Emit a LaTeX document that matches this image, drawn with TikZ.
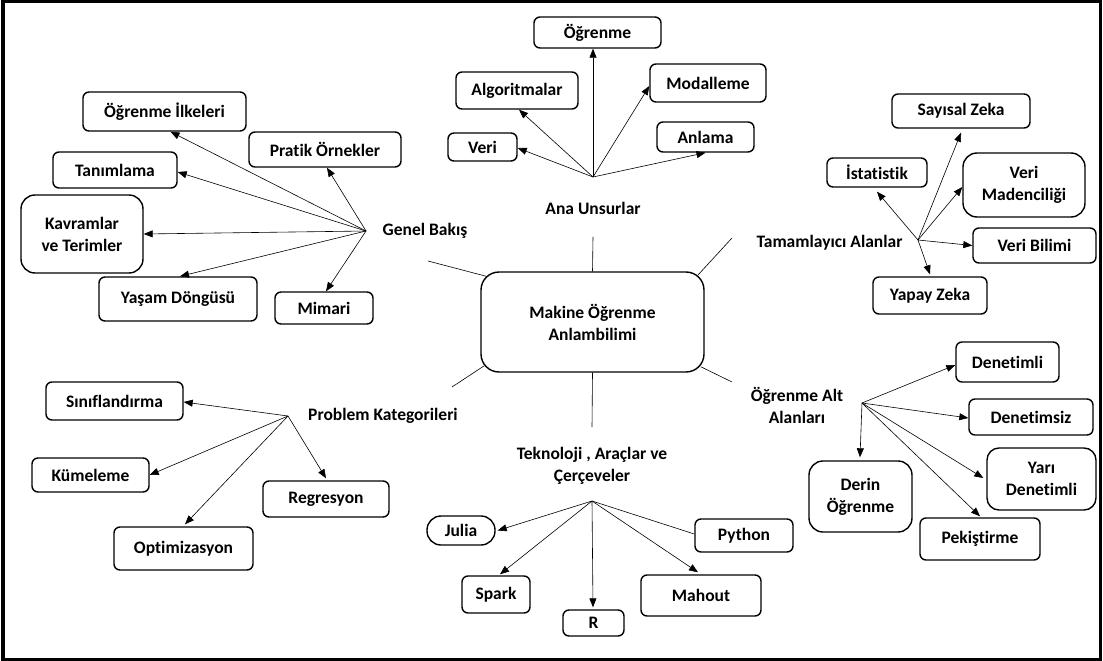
\documentclass[tikz,border=0pt]{standalone}
\usepackage{fontspec}
\setmainfont{Carlito}[RawFeature={-liga}]
\usetikzlibrary{arrows.meta,calc}

\begin{document}
\begin{tikzpicture}[
  x=1pt, y=-1pt,
  every node/.style={font=\fontsize{17.5}{22}\selectfont\bfseries, align=center, inner sep=0pt},
  box/.style={draw, line width=1.4pt, rounded corners=6pt},
  bigbox/.style={box, rounded corners=14pt},
  arr/.style={-{Triangle[length=9pt,width=7pt]}, line width=0.6pt},
  link/.style={line width=0.6pt}
]
\useasboundingbox (0,0) rectangle (1103,661);
\draw[line width=3.5pt] (3,1.5) rectangle (1100.5,659.5);

% central concept
\node[draw, line width=1.4pt, rounded corners=18pt, minimum width=223pt, minimum height=100pt]
  (mk) at (592.5,322) {Makine Öğrenme\\Anlambilimi};

% branch labels
\node (gb) at (425,231) {Genel Bakış};
\node (au) at (593,208) {Ana Unsurlar};
\node (ta) at (829.5,243) {Tamamlayıcı Alanlar};
\node (pk) at (383,416) {Problem Kategorileri};
\node (tk) at (592,466) {Teknoloji , Araçlar ve\\Çerçeveler};
\node (oa) at (797,405) {Öğrenme Alt\\Alanları};

% free ends of the spokes and hubs of the fans
\coordinate (gbEnd) at (428,261);
\coordinate (auEnd) at (593,237);
\coordinate (taEnd) at (732,238);
\coordinate (pkEnd) at (452,387);
\coordinate (tkEnd) at (592,427);
\coordinate (oaEnd) at (732,382);

\coordinate (gbHub) at (366,231);
\coordinate (auHub) at (593,177);
\coordinate (taHub) at (918,240);
\coordinate (pkHub) at (288,416);
\coordinate (tkHub) at (592,501);
\coordinate (oaHub) at (862,403);

\coordinate (mkGB) at ($(mk.north west)+(6,5)$);
\coordinate (mkTA) at ($(mk.north east)+(-7,4)$);
\coordinate (mkPK) at ($(mk.south west)+(4,-7)$);
\coordinate (mkOA) at ($(mk.south east)+(-4,-6)$);

\draw[link] (mkGB) -- (gbEnd);
\draw[link] (mk.north) -- (auEnd);
\draw[link] (mkTA) -- (taEnd);
\draw[link] (mkPK) -- (pkEnd);
\draw[link] (mk.south) -- (tkEnd);
\draw[link] (mkOA) -- (oaEnd);

% Genel Bakış
\node[box, minimum width=163pt, minimum height=39pt] (oi) at (164.5,111.5) {Öğrenme İlkeleri};
\node[box, minimum width=152pt, minimum height=35pt] (pr) at (325,149.5) {Pratik Örnekler};
\node[box, minimum width=124pt, minimum height=36pt] (tn) at (115,170) {Tanımlama};
\node[bigbox, minimum width=122pt, minimum height=78pt] (kv) at (82,234) {Kavramlar\\ve Terimler};
\node[box, minimum width=158pt, minimum height=44pt] (ys) at (178,299) {Yaşam Döngüsü};
\node[box, minimum width=98pt, minimum height=32pt] (mi) at (324,308) {Mimari};

\draw[arr] (gbHub) -- ([xshift=6pt]oi.south);
\draw[arr] (gbHub) -- ([xshift=2pt]pr.south);
\draw[arr] (gbHub) -- ([yshift=-2pt]tn.east);
\draw[arr] (gbHub) -- (kv.east);
\draw[arr] (gbHub) -- ([xshift=2pt]ys.north);
\draw[arr] (gbHub) -- ([xshift=2pt]mi.north);

% Ana Unsurlar
\node[box, minimum width=127pt, minimum height=31pt] (og) at (597.5,32.5) {Öğrenme};
\node[box, minimum width=122pt, minimum height=37pt] (al) at (517,90.5) {Algoritmalar};
\node[box, minimum width=116pt, minimum height=38pt] (mo) at (708,83) {Modalleme};
\node[box, minimum width=69pt, minimum height=28pt] (ve) at (482.5,147) {Veri};
\node[box, minimum width=97pt, minimum height=30pt] (an) at (705.5,137) {Anlama};

\draw[arr] (auHub) -- ([xshift=-4.5pt]og.south);
\draw[arr] (auHub) -- ([xshift=2pt]al.south);
\draw[arr] (auHub) -- ([yshift=-3pt]mo.west);
\draw[arr] (auHub) -- ([yshift=-1pt]ve.east);
\draw[arr] (auHub) -- (an.south);

% Tamamlayıcı Alanlar
\node[box, minimum width=138pt, minimum height=34pt] (sz) at (961,111) {Sayısal Zeka};
\node[box, minimum width=100pt, minimum height=29pt] (is) at (877,172.5) {İstatistik};
\node[bigbox, minimum width=122pt, minimum height=64pt] (vm) at (1024,185) {Veri\\Madenciliği};
\node[box, minimum width=123pt, minimum height=35pt] (vb) at (1034.5,245.5) {Veri Bilimi};
\node[box, minimum width=114pt, minimum height=37pt] (yz) at (930,295.5) {Yapay Zeka};

\draw[arr] (taHub) -- ([yshift=-4pt]sz.south);
\draw[arr] (taHub) -- ([yshift=-4pt]is.south);
\draw[arr] (taHub) -- ([yshift=-2pt]vm.west);
\draw[arr] (taHub) -- (vb.west);
\draw[arr] (taHub) -- ([yshift=2pt]yz.north);

% Problem Kategorileri
\node[box, minimum width=137pt, minimum height=38pt] (sn) at (114.5,401) {Sınıflandırma};
\node[box, minimum width=117pt, minimum height=34pt] (km) at (90.5,475) {Kümeleme};
\node[box, minimum width=139pt, minimum height=43pt] (op) at (183.5,548.5) {Optimizasyon};
\node[box, minimum width=126pt, minimum height=36pt] (rg) at (326,499) {Regresyon};

\draw[arr] (pkHub) -- ([yshift=-1pt]sn.east);
\draw[arr] (pkHub) -- (km.east);
\draw[arr] (pkHub) -- ([xshift=1.5pt,yshift=2pt]op.north);
\draw[arr] (pkHub) -- ([yshift=2pt]rg.north);

% Teknoloji, Araçlar ve Çerçeveler
\node[draw, line width=1.4pt, rounded corners=14pt, minimum width=68pt, minimum height=29pt] (ju) at (461,530.5) {Julia};
\node[box, minimum width=68pt, minimum height=37pt] (sp) at (496,594.5) {Spark};
\node[box, minimum width=61pt, minimum height=26pt] (rr) at (593.5,623) {R};
\node[box, minimum width=120pt, minimum height=41pt] (ma) at (701,595.5) {Mahout};
\node[box, minimum width=98pt, minimum height=33pt] (py) at (744,535.5) {Python};

\draw[arr] (tkHub) -- ([xshift=2pt]ju.east);
\draw[arr] (tkHub) -- ([xshift=4pt,yshift=1pt]sp.north);
\draw[arr] (tkHub) -- ([xshift=-0.5pt,yshift=2pt]rr.north);
\draw[arr] (tkHub) -- ([xshift=-3pt,yshift=2pt]ma.north);
\draw[link] (tkHub) -- ([yshift=1.5pt]py.west);

% Öğrenme Alt Alanları
\node[box, minimum width=103pt, minimum height=40pt] (dn) at (1007.5,362) {Denetimli};
\node[box, minimum width=124pt, minimum height=36pt] (dz) at (1031,417) {Denetimsiz};
\node[bigbox, rounded corners=12pt, minimum width=109pt, minimum height=62pt] (yd) at (1041.5,479) {Yarı\\Denetimli};
\node[box, minimum width=120pt, minimum height=42pt] (pe) at (980,539) {Pekiştirme};
\node[bigbox, minimum width=103pt, minimum height=71pt] (dr) at (860.5,496.5) {Derin\\Öğrenme};

\draw[arr] (oaHub) -- ([yshift=-3pt]dn.west);
\draw[arr] (oaHub) -- ([yshift=-1pt]dz.west);
\draw[arr] (oaHub) -- ([xshift=-3pt,yshift=1pt]yd.west);
\draw[arr] (oaHub) -- ([yshift=1pt]pe.north);
\draw[arr] (oaHub) -- ([xshift=-0.5pt,yshift=3pt]dr.north);
\end{tikzpicture}
\end{document}
